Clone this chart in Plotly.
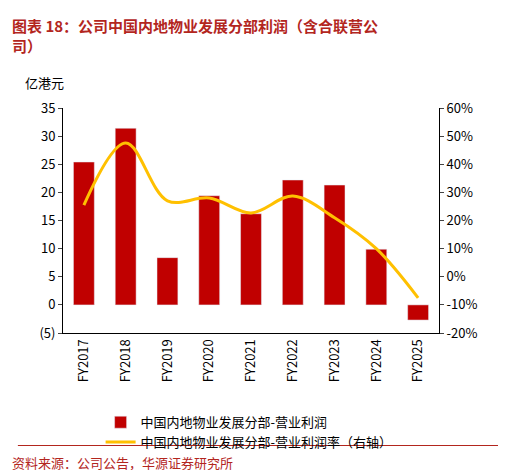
import plotly.graph_objects as go

years = ["FY2017", "FY2018", "FY2019", "FY2020", "FY2021", "FY2022", "FY2023", "FY2024", "FY2025"]
profit = [25.4, 31.4, 8.4, 19.4, 16.2, 22.2, 21.3, 9.9, -2.7]
margin = [25.5, 47.6, 27.0, 28.0, 22.7, 28.7, 21.0, 10.0, -7.5]

left_vals = [-5, 0, 5, 10, 15, 20, 25, 30, 35]
left_text = ["(5)", "0", "5", "10", "15", "20", "25", "30", "35"]
right_vals = [-20, -10, 0, 10, 20, 30, 40, 50, 60]
right_text = [f"{v}%" for v in right_vals]

fig = go.Figure()
fig.add_trace(go.Bar(x=years, y=profit, name="中国内地物业发展分部-营业利润",
                     marker_color="#C00000", width=0.5))
fig.add_trace(go.Scatter(x=years, y=margin, name="中国内地物业发展分部-营业利润率（右轴）",
                         yaxis="y2", mode="lines", line=dict(color="#FFC000", width=3, shape="spline")))

fig.update_layout(
    width=506, height=470,
    font=dict(family="Noto Sans CJK SC", size=13, color="#000"),
    plot_bgcolor="white", paper_bgcolor="white",
    margin=dict(l=55, r=75, t=100, b=145),
    showlegend=True,
    legend=dict(x=0.1, y=-0.33, xanchor="left", yanchor="top", bgcolor="rgba(0,0,0,0)",
                font=dict(size=13), tracegroupgap=0),
    xaxis=dict(tickangle=-90, showline=True, linecolor="#000", ticks="", tickfont=dict(size=13)),
    yaxis=dict(range=[-5, 35], tickvals=left_vals, ticktext=left_text, showgrid=False,
               showline=True, linecolor="#000", ticks="outside", ticklen=4, zeroline=False),
    yaxis2=dict(range=[-20, 60], tickvals=right_vals, ticktext=right_text, overlaying="y",
                side="right", showgrid=False, showline=True, linecolor="#000",
                ticks="outside", ticklen=4, zeroline=False),
    annotations=[
        dict(text="<b>图表 18：公司中国内地物业发展分部利润（含合联营公<br>司）</b>", x=0, y=1.0,
             xref="paper", yref="paper", xanchor="left", yanchor="top", xshift=-53, yshift=95,
             showarrow=False, align="left", font=dict(size=15, color="#B3261E")),
        dict(text="亿港元", x=0, y=1, xref="paper", yref="paper", xanchor="left",
             yanchor="bottom", xshift=-40, yshift=14, showarrow=False, font=dict(size=13)),
        dict(text="资料来源：公司公告，华源证券研究所", x=0, y=0, xref="paper", yref="paper",
             xanchor="left", yanchor="top", xshift=-53, yshift=-118, showarrow=False,
             font=dict(size=13, color="#B3261E")),
    ],
    shapes=[dict(type="line", xref="paper", yref="paper", x0=-0.12, x1=1.2,
                 y0=-0.5, y1=-0.5, line=dict(color="#B3261E", width=1))],
)
fig.write_html("out.html")
